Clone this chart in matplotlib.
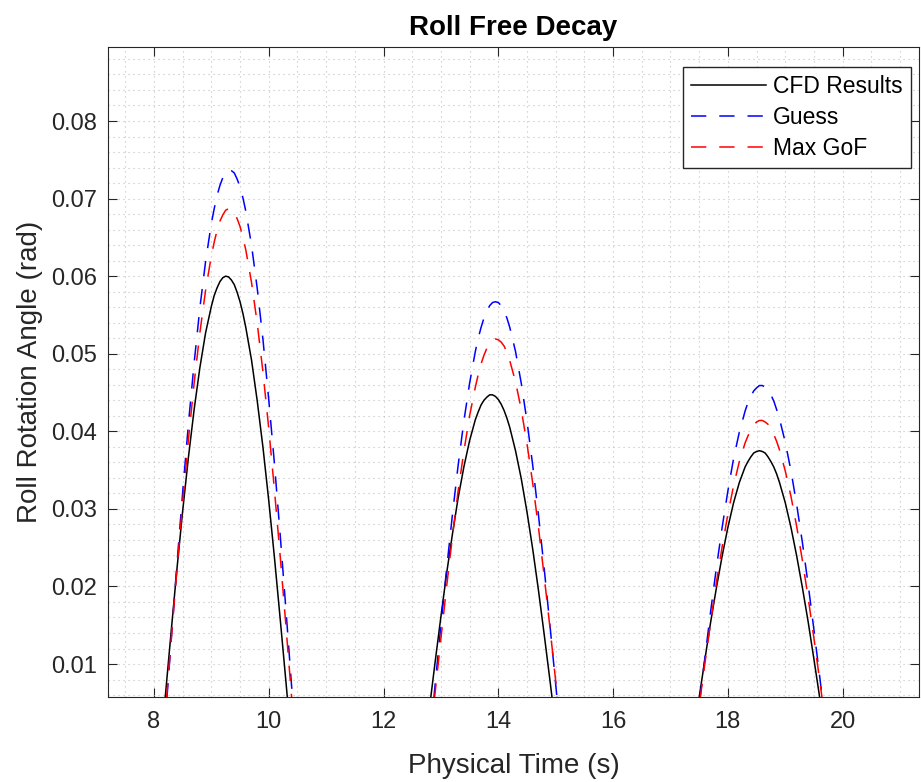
import matplotlib
matplotlib.use("Agg")
import matplotlib.pyplot as plt
from matplotlib.ticker import MultipleLocator

plt.rcParams['font.family'] = ['Liberation Sans', 'DejaVu Sans']

# the three positive roll lobes (denser near each peak)
time1 = [8.1, 8.2, 8.3, 8.4, 8.5, 8.6, 8.7, 8.8, 8.9, 9.0, 9.05, 9.1, 9.15, 9.2,
         9.25, 9.3, 9.35, 9.4, 9.45, 9.5, 9.55, 9.6, 9.7, 9.8, 9.9, 10.0, 10.1,
         10.2, 10.3, 10.4, 10.5]
cfd1 = [-0.0023, 0.0060, 0.0142, 0.0222, 0.0297, 0.0366, 0.0428, 0.0482, 0.0527,
        0.0561, 0.0575, 0.0585, 0.0593, 0.0598, 0.0600, 0.0599, 0.0595, 0.0589,
        0.0579, 0.0567, 0.0552, 0.0534, 0.0492, 0.0439, 0.0379, 0.0311, 0.0237,
        0.0158, 0.0077, -0.0006, -0.0088]
guess1 = [-0.0070, 0.0030, 0.0130, 0.0228, 0.0321, 0.0409, 0.0488, 0.0559, 0.0619,
          0.0668, 0.0687, 0.0704, 0.0717, 0.0727, 0.0734, 0.0737, 0.0736, 0.0733,
          0.0725, 0.0715, 0.0701, 0.0684, 0.0640, 0.0584, 0.0518, 0.0441, 0.0358,
          0.0266, 0.0170, 0.0070, -0.0030]
gof1 = [-0.0056, 0.0038, 0.0131, 0.0221, 0.0308, 0.0389, 0.0462, 0.0527, 0.0582,
        0.0626, 0.0644, 0.0659, 0.0671, 0.0679, 0.0685, 0.0687, 0.0686, 0.0682,
        0.0674, 0.0664, 0.0650, 0.0634, 0.0592, 0.0539, 0.0476, 0.0404, 0.0324,
        0.0239, 0.0149, 0.0056, -0.0038]

time2 = [12.7, 12.8, 12.9, 13.0, 13.1, 13.2, 13.3, 13.4, 13.5, 13.6, 13.65, 13.7,
         13.75, 13.8, 13.85, 13.9, 13.95, 14.0, 14.05, 14.1, 14.15, 14.2, 14.3, 14.4,
         14.5, 14.6, 14.7, 14.8, 14.9, 15.0, 15.1, 15.2]
cfd2 = [-0.0018, 0.0043, 0.0103, 0.0161, 0.0217, 0.0267, 0.0314, 0.0354, 0.0388,
        0.0415, 0.0425, 0.0434, 0.0440, 0.0444, 0.0447, 0.0447, 0.0445, 0.0441,
        0.0435, 0.0427, 0.0417, 0.0405, 0.0375, 0.0339, 0.0296, 0.0248, 0.0195,
        0.0138, 0.0079, 0.0018, -0.0043, -0.0103]
guess2 = [-0.0082, -0.0004, 0.0074, 0.0150, 0.0223, 0.0292, 0.0356, 0.0413, 0.0462,
          0.0503, 0.0520, 0.0534, 0.0546, 0.0555, 0.0562, 0.0566, 0.0567, 0.0566,
          0.0562, 0.0555, 0.0546, 0.0534, 0.0503, 0.0462, 0.0413, 0.0356, 0.0292,
          0.0223, 0.0150, 0.0074, -0.0004, -0.0082]
gof2 = [-0.0078, -0.0007, 0.0064, 0.0133, 0.0200, 0.0264, 0.0323, 0.0374, 0.0420,
        0.0457, 0.0473, 0.0487, 0.0498, 0.0507, 0.0513, 0.0517, 0.0519, 0.0518,
        0.0515, 0.0510, 0.0502, 0.0491, 0.0464, 0.0428, 0.0384, 0.0333, 0.0276,
        0.0213, 0.0147, 0.0078, 0.0007, -0.0064]

time3 = [17.3, 17.4, 17.5, 17.6, 17.7, 17.8, 17.9, 18.0, 18.1, 18.2, 18.3, 18.35,
         18.4, 18.45, 18.5, 18.55, 18.6, 18.65, 18.7, 18.75, 18.8, 18.85, 18.9, 19.0,
         19.1, 19.2, 19.3, 19.4, 19.5, 19.6, 19.7, 19.8]
cfd3 = [-0.0044, 0.0006, 0.0057, 0.0106, 0.0154, 0.0198, 0.0239, 0.0276, 0.0308,
        0.0334, 0.0354, 0.0361, 0.0367, 0.0372, 0.0374, 0.0375, 0.0374, 0.0372,
        0.0367, 0.0361, 0.0354, 0.0345, 0.0334, 0.0308, 0.0276, 0.0239, 0.0198,
        0.0154, 0.0106, 0.0057, 0.0006, -0.0044]
guess3 = [-0.0078, -0.0016, 0.0047, 0.0108, 0.0168, 0.0224, 0.0276, 0.0323, 0.0365,
          0.0399, 0.0426, 0.0437, 0.0445, 0.0452, 0.0456, 0.0459, 0.0459, 0.0457,
          0.0453, 0.0447, 0.0439, 0.0428, 0.0416, 0.0386, 0.0349, 0.0305, 0.0256,
          0.0202, 0.0144, 0.0084, 0.0022, -0.0041]
gof3 = [-0.0065, -0.0010, 0.0046, 0.0101, 0.0154, 0.0205, 0.0251, 0.0293, 0.0330,
        0.0361, 0.0385, 0.0394, 0.0402, 0.0408, 0.0412, 0.0414, 0.0414, 0.0412,
        0.0409, 0.0403, 0.0396, 0.0387, 0.0376, 0.0349, 0.0316, 0.0277, 0.0233,
        0.0185, 0.0133, 0.0079, 0.0024, -0.0032]

times = [time1, time2, time3]
series = [
    ("CFD Results", [cfd1, cfd2, cfd3], "black", "-"),
    ("Guess", [guess1, guess2, guess3], "blue", "--"),
    ("Max GoF", [gof1, gof2, gof3], "red", "--"),
]

AX_COLOR = "#262626"

fig = plt.figure(figsize=(9.21, 7.82), dpi=100)
ax = fig.add_axes([0.1173, 0.1083, 0.8805, 0.8312])

for label, lobes, color, style in series:
    for i, (t, y) in enumerate(zip(times, lobes)):
        kw = dict(color=color, lw=1.1, label=label if i == 0 else None)
        if style == "--":
            kw["dashes"] = (10, 8.5)
        ax.plot(t, y, **kw)

ax.set_xlim(7.2, 21.33)
ax.set_ylim(0.00571, 0.0895)

ax.xaxis.set_major_locator(MultipleLocator(2))
ax.xaxis.set_minor_locator(MultipleLocator(0.5))
ax.yaxis.set_major_locator(MultipleLocator(0.01))
ax.yaxis.set_minor_locator(MultipleLocator(0.002))
ax.set_yticks([0.01, 0.02, 0.03, 0.04, 0.05, 0.06, 0.07, 0.08])
ax.set_yticklabels(["0.01", "0.02", "0.03", "0.04", "0.05", "0.06", "0.07", "0.08"])

ax.grid(which="both", color="#c0c0c0", linestyle=(0, (1, 3.5)), linewidth=0.8)
ax.set_axisbelow(True)

ax.tick_params(which="major", direction="in", length=6.5, width=0.8,
               top=True, right=True, colors=AX_COLOR, labelsize=17, pad=8)
ax.tick_params(axis="x", which="major", pad=10)
ax.tick_params(which="minor", length=0, top=True, right=True)
for sp in ax.spines.values():
    sp.set_color(AX_COLOR)
    sp.set_linewidth(0.8)

ax.set_xlabel("Physical Time (s)", fontsize=20, color=AX_COLOR, labelpad=14)
ax.set_ylabel("Roll Rotation Angle (rad)", fontsize=20, color=AX_COLOR, labelpad=6)
ax.set_title("Roll Free Decay", fontsize=20, fontweight="bold", pad=9)

leg = ax.legend(loc="upper right", bbox_to_anchor=(0.990, 0.9697), borderaxespad=0,
                fontsize=16.5, handlelength=3.3, labelspacing=0.35, handletextpad=0.3,
                fancybox=False, framealpha=1, borderpad=0.35)
leg.get_frame().set_edgecolor(AX_COLOR)
leg.get_frame().set_linewidth(1.0)

fig.savefig("out.png", dpi=100)
